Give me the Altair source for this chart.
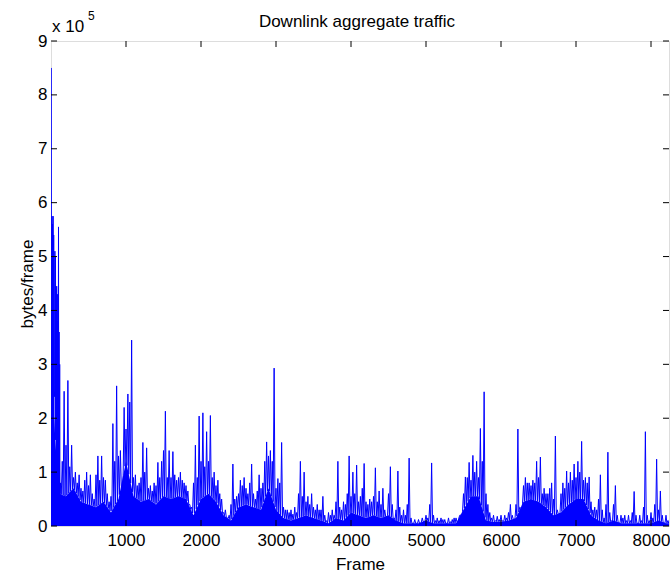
import altair as alt
import numpy as np
import pandas as pd

FONT = "Liberation Sans"
BLUE = "#0000ff"

# Opening burst, one sample every 4 frames (thousands of bytes per frame)
head_frames = list(range(4, 128, 4))
head_kbytes = [850, 10, 575, 20, 560, 30, 575, 20, 540, 250, 250, 240, 510, 160, 500, 160,
               440, 30, 445, 20, 430, 40, 380, 30, 555, 20, 360, 10, 300, 20, 60]

# Largest value in each 50-frame window, window centres at frames 125, 175, 225, ...
# (thousands of bytes per frame)
peak_kbytes = [
    80, 250, 270, 150, 100, 95, 65, 100, 95, 50,
    130, 130, 85, 45, 190, 260, 140, 220, 245, 345,
    95, 80, 155, 145, 75, 80, 118, 120, 213, 140,
    138, 85, 100, 80, 65, 35, 150, 204, 210, 175,
    205, 100, 85, 50, 30, 20, 115, 55, 85, 90,
    60, 115, 50, 95, 80, 156, 140, 293, 88, 155,
    30, 25, 22, 25, 120, 100, 55, 60, 30, 30,
    55, 10, 20, 20, 120, 30, 40, 130, 100, 113,
    55, 116, 40, 45, 108, 65, 70, 15, 110, 15,
    102, 20, 20, 126, 5, 5, 5, 8, 15, 117,
    10, 10, 12, 5, 8, 15, 5, 15, 91, 118,
    131, 120, 181, 249, 40, 15, 10, 12, 10, 15,
    40, 10, 180, 30, 90, 80, 85, 120, 128, 70,
    60, 80, 167, 20, 80, 102, 100, 115, 120, 157,
    90, 91, 30, 30, 95, 15, 137, 10, 75, 5,
    15, 10, 10, 64, 5, 10, 175, 10, 15, 124,
    65, 5, 10,
]

# Secondary maxima between those windows, at frames 150, 200, 250, ...
mid_kbytes = [
    120, 150, 110, 90, 80, 70, 85, 75, 60, 95,
    85, 90, 60, 55, 120, 130, 60, 180, 230, 90,
    75, 90, 100, 70, 65, 75, 90, 140, 90, 90,
    95, 90, 85, 75, 40, 80, 90, 120, 110, 120,
    90, 75, 60, 25, 15, 40, 50, 60, 75, 70,
    80, 60, 65, 70, 120, 130, 120, 70, 80, 35,
    30, 30, 35, 60, 55, 45, 40, 35, 40, 30,
    20, 25, 30, 45, 35, 45, 60, 55, 60, 45,
    70, 45, 50, 55, 45, 40, 30, 60, 40, 30,
    35, 30, 40, 15, 12, 12, 15, 20, 40, 20,
    15, 15, 12, 15, 12, 15, 20, 60, 90, 85,
    100, 90, 120, 60, 25, 20, 18, 20, 20, 25,
    20, 40, 35, 75, 80, 75, 80, 90, 60, 60,
    70, 50, 30, 60, 70, 80, 85, 90, 100, 85,
    80, 45, 35, 50, 30, 40, 25, 40, 20, 20,
    20, 20, 25, 20, 20, 35, 20, 25, 40, 30,
    20, 20, 15,
]

# Sustained (background) load every 100 frames, thousands of bytes per frame
base_frames = list(range(0, 8400, 100))
base_kbytes = [
    300, 60, 55, 70, 45, 40, 35, 45, 25, 50,
    120, 55, 45, 50, 40, 55, 50, 55, 50, 20,
    50, 60, 45, 20, 10, 35, 40, 35, 30, 70,
    30, 15, 10, 15, 20, 15, 10, 5, 15, 10,
    25, 20, 15, 20, 15, 20, 10, 5, 5, 5,
    10, 5, 5, 5, 5, 30, 55, 55, 10, 8,
    8, 10, 15, 45, 50, 45, 35, 20, 25, 40,
    50, 50, 20, 10, 5, 10, 5, 5, 5, 5,
    5, 10, 5, 5,
]

x_ticks = [1000, 2000, 3000, 4000, 5000, 6000, 7000, 8000]
y_ticks = [0, 100000, 200000, 300000, 400000, 500000, 600000, 700000, 800000, 900000]


def background_at(f):
    return float(np.interp(f, base_frames, base_kbytes))


# Per-frame trace: opening burst, then window peak / background / secondary peak / background
frames = list(head_frames)
kbytes = list(head_kbytes)
for k, (pk, md) in enumerate(zip(peak_kbytes, mid_kbytes)):
    f0 = 125 + 50 * k
    frames += [f0, f0 + 12, f0 + 25, f0 + 37]
    kbytes += [pk, background_at(f0 + 12), md, background_at(f0 + 37)]

traffic = pd.DataFrame({"frame": frames, "bytes": np.array(kbytes) * 1000.0})
background = pd.DataFrame({"frame": base_frames, "bytes": np.array(base_kbytes) * 1000.0})
xt = pd.DataFrame({"v": x_ticks})
yt = pd.DataFrame({"v": y_ticks})

W, H = 618, 485
frame_scale = alt.Scale(domain=[0, 8240], nice=False, zero=False)
bytes_scale = alt.Scale(domain=[0, 900000], nice=False, zero=False)

x_axis = alt.Axis(
    values=x_ticks, format="d", ticks=False, domain=False, grid=False,
    labelFont=FONT, labelFontSize=17, labelColor="#000", labelPadding=6,
    title="Frame", titleFont=FONT, titleFontSize=17, titleFontWeight="normal",
    titleColor="#000", titleY=38, titleBaseline="middle",
)
y_axis = alt.Axis(
    values=y_ticks, labelExpr="datum.value / 100000", ticks=False, domain=False, grid=False,
    labelFont=FONT, labelFontSize=17, labelColor="#000", labelPadding=4,
    title="bytes/frame", titleFont=FONT, titleFontSize=17, titleFontWeight="normal",
    titleColor="#000", titleX=-24, titleY=H / 2, titleBaseline="middle",
)

line = alt.Chart(traffic).mark_line(color=BLUE, strokeWidth=1, clip=True).encode(
    x=alt.X("frame:Q", scale=frame_scale, axis=x_axis),
    y=alt.Y("bytes:Q", scale=bytes_scale, axis=y_axis),
)

area = alt.Chart(background).mark_area(color=BLUE, opacity=1, clip=True).encode(
    x=alt.X("frame:Q", scale=frame_scale, axis=x_axis),
    y=alt.Y("bytes:Q", scale=bytes_scale, axis=y_axis),
)

TICK = 6
left_ticks = alt.Chart(yt).mark_rule(color="#000", strokeWidth=1).encode(
    y=alt.Y("v:Q", scale=bytes_scale, axis=y_axis), x=alt.value(0), x2=alt.value(TICK))
right_ticks = alt.Chart(yt).mark_rule(color="#000", strokeWidth=1).encode(
    y=alt.Y("v:Q", scale=bytes_scale, axis=y_axis), x=alt.value(W - TICK), x2=alt.value(W))
bottom_ticks = alt.Chart(xt).mark_rule(color="#000", strokeWidth=1).encode(
    x=alt.X("v:Q", scale=frame_scale, axis=x_axis), y=alt.value(H - TICK), y2=alt.value(H))
top_ticks = alt.Chart(xt).mark_rule(color="#000", strokeWidth=1).encode(
    x=alt.X("v:Q", scale=frame_scale, axis=x_axis), y=alt.value(0), y2=alt.value(TICK))

# Chart heading and the scale factor annotation above the y axis
heading = alt.Chart(pd.DataFrame({"t": ["Downlink aggregate traffic"]})).mark_text(
    align="center", baseline="alphabetic", font=FONT, fontSize=17, color="#000"
).encode(text="t:N", x=alt.value(W / 2 - 3), y=alt.value(-14))
mult = alt.Chart(pd.DataFrame({"t": ["x 10"]})).mark_text(
    align="left", baseline="alphabetic", font=FONT, fontSize=17, color="#000"
).encode(text="t:N", x=alt.value(1), y=alt.value(-9))
power = alt.Chart(pd.DataFrame({"t": ["5"]})).mark_text(
    align="left", baseline="alphabetic", font=FONT, fontSize=12, color="#000"
).encode(text="t:N", x=alt.value(37), y=alt.value(-21))

chart = alt.layer(
    line, area, left_ticks, right_ticks, bottom_ticks, top_ticks, heading, mult, power
).properties(
    width=W,
    height=H,
    autosize=alt.AutoSizeParams(type="none"),
    padding={"left": 51, "top": 41, "right": 1, "bottom": 49},
).configure_view(stroke="#000", strokeWidth=1).configure(background="white")

chart.save("out.html", embed_options={"renderer": "svg", "actions": False})
